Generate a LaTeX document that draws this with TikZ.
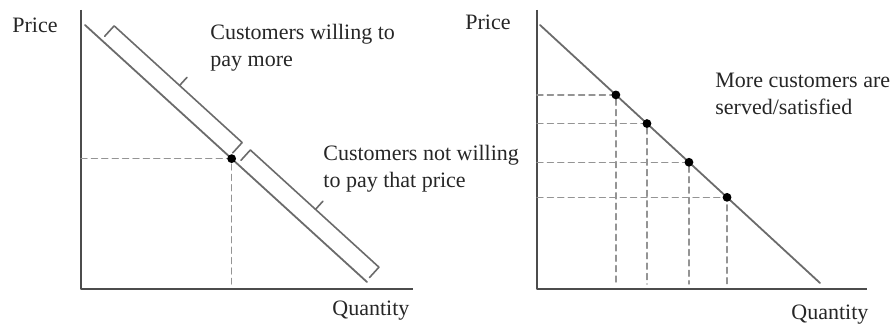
\documentclass[tikz,border=0pt]{standalone}
\usepackage{fontspec}
\setmainfont{Liberation Serif}
\usetikzlibrary{calc}

\definecolor{axisgray}{gray}{0.30}
\definecolor{linegray}{gray}{0.42}
\definecolor{dashgray}{gray}{0.58}
\definecolor{textgray}{gray}{0.15}

\begin{document}
\begin{tikzpicture}[x=0.5pt, y=-0.5pt, line cap=round, line join=round,
  axis/.style={axisgray, line width=1.3pt, line cap=butt},
  demand/.style={linegray, line width=0.9pt},
  brace/.style={linegray, line width=0.8pt},
  guide/.style={dashgray, line width=0.7pt, dash pattern=on 3pt off 2.2pt},
  lbl/.style={inner sep=0pt, anchor=base west, align=left, text=textgray,
    font=\fontsize{11}{13.5}\selectfont}]

\useasboundingbox (0,0) rectangle (896,326);

% ----------------------------
% PARAMETERS
% ----------------------------
\def\bin{2.5pt}    % bracket foot, offset from the demand line
\def\bout{9.5pt}   % bracket back, offset from the demand line
\def\btick{15pt}   % end of the middle tick
\def\dotr{2.2pt}   % dot radius

% ----------------------------
% LEFT PANEL
% ----------------------------
\coordinate (oA) at (81,289);
\coordinate (yA) at (81,10);
\coordinate (xA) at (413,289);
\coordinate (dA1) at (85,25);
\coordinate (dA2) at (367,282);

\draw[axis] (yA) -- (oA) -- (xA);
\draw[demand] (dA1) -- (dA2);

% price point
\coordinate (pA) at ($(dA1)!0.52!(dA2)$);
\coordinate (qA) at ($(pA |- oA)+(0,-5)$);
\draw[guide] (pA -| oA) -- (pA) -- (qA);
\fill (pA) circle (\dotr);

% upper bracket (willing to pay more)
\coordinate (b1s) at ($(dA1)!0.058!(dA2)$);
\coordinate (b1e) at ($(dA1)!0.512!(dA2)$);
\coordinate (b1m) at ($(dA1)!0.290!(dA2)$);
\draw[brace]
  ($(b1s)!\bin!-90:(dA1)$) -- ($(b1s)!\bout!-90:(dA1)$)
  -- ($(b1e)!\bout!-90:(dA1)$) -- ($(b1e)!\bin!-90:(dA1)$);
\draw[brace] ($(b1m)!\bout!-90:(dA1)$) -- ($(b1m)!\btick!-90:(dA1)$);

% lower bracket (not willing to pay)
\coordinate (b2s) at ($(dA1)!0.541!(dA2)$);
\coordinate (b2e) at ($(dA1)!0.997!(dA2)$);
\coordinate (b2m) at ($(dA1)!0.772!(dA2)$);
\draw[brace]
  ($(b2s)!\bin!-90:(dA1)$) -- ($(b2s)!\bout!-90:(dA1)$)
  -- ($(b2e)!\bout!-90:(dA1)$) -- ($(b2e)!\bin!-90:(dA1)$);
\draw[brace] ($(b2m)!\bout!-90:(dA1)$) -- ($(b2m)!\btick!-90:(dA1)$);

% labels (base = last line)
\node[lbl] (priceA) at (12,33) {Price};
\node[lbl] (qtyA) at (332,316) {Quantity};
\node[lbl] (moreA) at (210,67) {Customers willing to\\pay more};
\node[lbl] (notA) at (323,188) {Customers not willing\\to pay that price};

% ----------------------------
% RIGHT PANEL
% ----------------------------
\coordinate (oB) at (537,289);
\coordinate (yB) at (537,10);
\coordinate (xB) at (867,289);
\coordinate (dB1) at (540,25);
\coordinate (dB2) at (820,283);

\draw[axis] (yB) -- (oB) -- (xB);
\draw[demand] (dB1) -- (dB2);

% price points
\coordinate (pB1) at ($(dB1)!0.271!(dB2)$);
\coordinate (pB2) at ($(dB1)!0.382!(dB2)$);
\coordinate (pB3) at ($(dB1)!0.532!(dB2)$);
\coordinate (pB4) at ($(dB1)!0.668!(dB2)$);

\coordinate (qB1) at ($(pB1 |- oB)+(0,-5)$);
\coordinate (qB2) at ($(pB2 |- oB)+(0,-5)$);
\coordinate (qB3) at ($(pB3 |- oB)+(0,-5)$);
\coordinate (qB4) at ($(pB4 |- oB)+(0,-5)$);

\draw[guide] (pB1 -| oB) -- (pB1) -- (qB1);
\draw[guide] (pB2 -| oB) -- (pB2) -- (qB2);
\draw[guide] (pB3 -| oB) -- (pB3) -- (qB3);
\draw[guide] (pB4 -| oB) -- (pB4) -- (qB4);

\fill (pB1) circle (\dotr);
\fill (pB2) circle (\dotr);
\fill (pB3) circle (\dotr);
\fill (pB4) circle (\dotr);

% labels
\node[lbl] (priceB) at (465,30) {Price};
\node[lbl] (qtyB) at (791,320) {Quantity};
\node[lbl] (servedB) at (715,115) {More customers are\\served/satisfied};

\end{tikzpicture}
\end{document}
